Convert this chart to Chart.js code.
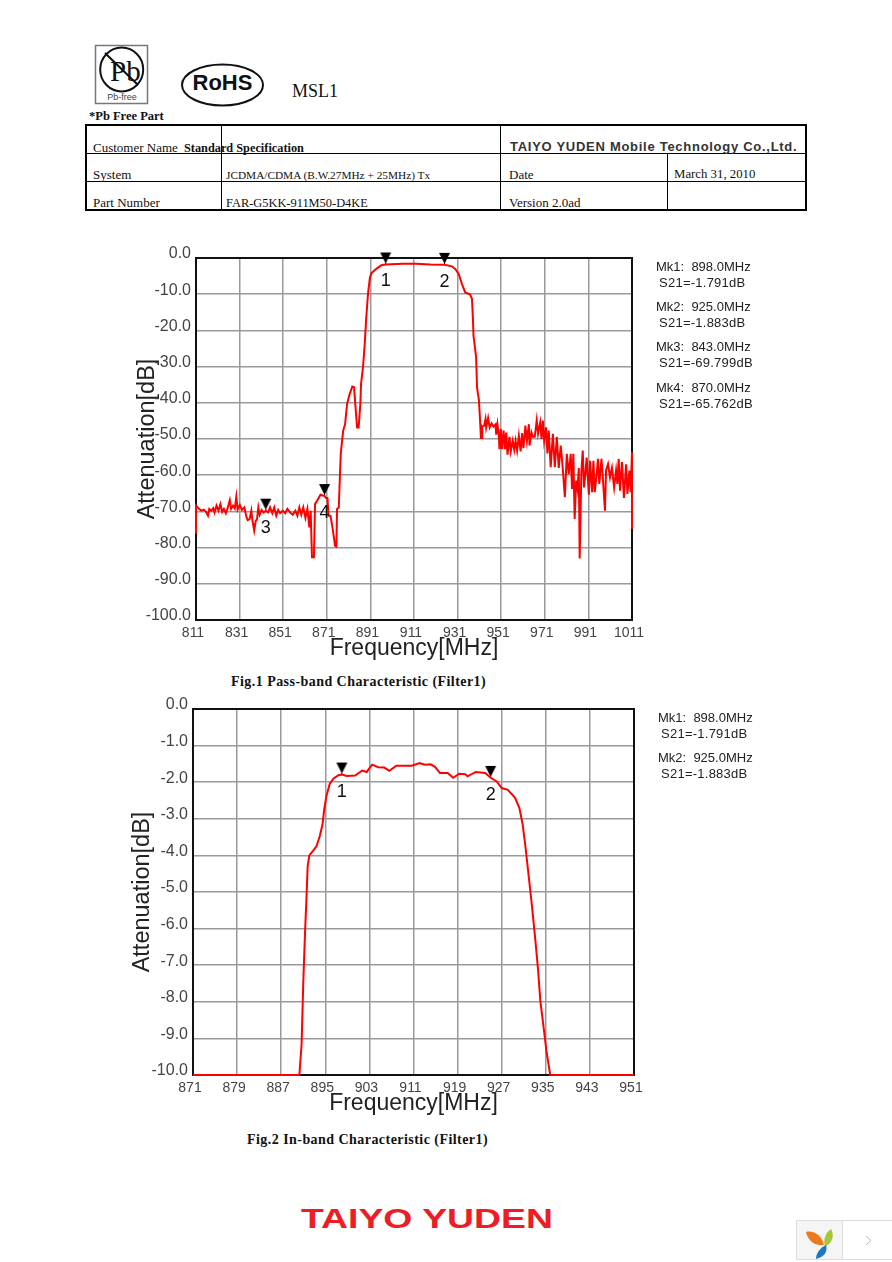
<!DOCTYPE html>
<html>
<head>
<meta charset="utf-8">
<title>FAR-G5KK-911M50-D4KE</title>
<script src="https://cdn.jsdelivr.net/npm/chart.js@4"></script>
<style>
  html, body { margin: 0; padding: 0; background: #fff; }
  body { position: relative; width: 892px; height: 1262px; overflow: hidden; }
  canvas { position: absolute; }
  .t { position: absolute; white-space: pre; line-height: 1; color: #111; }
  .serif { font-family: "Liberation Serif", serif; }
  .sans { font-family: "Liberation Sans", sans-serif; }
  .hl { position: absolute; background: #000; }
  .mk { position: absolute; font: 13px "Liberation Sans", sans-serif; color: #222; white-space: pre; line-height: 1; }
  svg { position: absolute; }
</style>
</head>
<body>

<!-- logos -->
<svg style="left:0;top:0" width="892" height="125">
  <rect x="95.5" y="45.5" width="52" height="58" fill="#fff" stroke="#777" stroke-width="1.5"/>
  <ellipse cx="121.7" cy="69.5" rx="21.5" ry="22" fill="none" stroke="#111" stroke-width="2"/>
  <line x1="105" y1="53" x2="138" y2="85" stroke="#111" stroke-width="2"/>
  <text x="110" y="81" font-family="Liberation Serif" font-size="29" fill="#111">Pb</text>
  <text x="122" y="100" font-family="Liberation Sans" font-size="9" fill="#444" text-anchor="middle">Pb-free</text>
  <ellipse cx="222.5" cy="85" rx="40.5" ry="20.5" fill="none" stroke="#111" stroke-width="2"/>
  <text x="222.5" y="90" font-family="Liberation Sans" font-weight="bold" font-size="22" fill="#111" text-anchor="middle">RoHS</text>
</svg>
<div class="t serif" style="left:292px;top:82px;font-size:18px">MSL1</div>
<div class="t serif" style="left:89px;top:110px;font-size:12.5px;font-weight:bold">*Pb Free Part</div>

<!-- spec table -->
<div class="hl" style="left:85px;top:124px;width:722px;height:2px"></div>
<div class="hl" style="left:85px;top:209px;width:722px;height:2px"></div>
<div class="hl" style="left:85px;top:124px;width:2px;height:87px"></div>
<div class="hl" style="left:805px;top:124px;width:2px;height:87px"></div>
<div class="hl" style="left:221px;top:124px;width:1px;height:87px"></div>
<div class="hl" style="left:500px;top:124px;width:1px;height:87px"></div>
<div class="hl" style="left:667px;top:153px;width:1px;height:58px"></div>
<div class="hl" style="left:85px;top:153px;width:722px;height:1px"></div>
<div class="hl" style="left:85px;top:181px;width:722px;height:1px"></div>
<div class="t serif" style="left:93px;top:141px;font-size:13px">Customer Name</div>
<div class="t serif" style="left:184px;top:142px;font-size:12.3px;font-weight:bold">Standard Specification</div>
<div class="t sans" style="left:510px;top:140px;font-size:13px;font-weight:bold;letter-spacing:.72px;color:#333">TAIYO YUDEN Mobile Technology Co.,Ltd.</div>
<div class="t serif" style="left:93px;top:168px;font-size:13px">System</div>
<div class="t serif" style="left:226px;top:170px;font-size:11.3px">JCDMA/CDMA (B.W.27MHz + 25MHz) Tx</div>
<div class="t serif" style="left:509px;top:168px;font-size:13px">Date</div>
<div class="t serif" style="left:674px;top:168px;font-size:12.8px">March 31, 2010</div>
<div class="t serif" style="left:93px;top:196px;font-size:13px">Part Number</div>
<div class="t serif" style="left:226px;top:197px;font-size:12.4px">FAR-G5KK-911M50-D4KE</div>
<div class="t serif" style="left:509px;top:196px;font-size:13px">Version 2.0ad</div>

<canvas id="passChart" width="540" height="425" style="left:120px;top:240px"></canvas>
<canvas id="inbandChart" width="540" height="430" style="left:120px;top:690px"></canvas>

<div class="t serif" style="left:231px;top:675px;font-size:14px;font-weight:bold;letter-spacing:.45px">Fig.1 Pass-band Characteristic (Filter1)</div>
<div class="t serif" style="left:247px;top:1133px;font-size:14px;font-weight:bold;letter-spacing:.45px">Fig.2 In-band Characteristic (Filter1)</div>

<!-- footer -->
<svg style="left:0;top:1190px" width="892" height="72">
  <text x="301" y="38" font-family="Liberation Sans" font-weight="bold" font-size="27" fill="#ee1c25" textLength="252" lengthAdjust="spacingAndGlyphs">TAIYO YUDEN</text>
  <rect x="796.5" y="30.5" width="100" height="39" fill="#fff" stroke="#ddd"/>
  <rect x="797" y="31" width="46" height="38" fill="#f5f5f5"/>
  <line x1="842.5" y1="30" x2="842.5" y2="70" stroke="#ddd"/>
  <path d="M806 42 C814 40 822 46 824 55 C815 56 808 51 806 42Z" fill="#ec7a1c"/>
  <path d="M831 39 C835 46 832 53 825 57 C823 50 825 43 831 39Z" fill="#a5c83a"/>
  <path d="M816 69 C816 63 820 58 826 55 C828 62 824 67 816 69Z" fill="#1c78c0"/>
  <path d="M866 46 L871 50.500 L866 55" fill="none" stroke="#bbb"/>
</svg>

<script>
// Fig.1 trace
const freq1 = [811, 811, 812.4, 813.4, 814.6, 815.6, 816.5, 817.1, 818, 818.9, 819.5, 820.4, 821.3, 822.2, 823, 823.8, 824.7, 825.6, 826.5, 827.1, 828, 828.8, 829.5, 830.1, 831.1, 832.1, 833.2, 834.1, 834.7, 835.6, 836.4, 836.8, 837.7, 838.4, 839, 839.6, 840.2, 841.1, 842, 843, 844.1, 845, 846, 846.9, 847.8, 848.7, 849.6, 850.8, 851.9, 852.9, 854.2, 855.4, 856.6, 857.5, 858.4, 859.3, 860.2, 861.2, 862.1, 863, 863.6, 864.2, 865.1, 865.6, 866.6, 868.1, 870, 870.6, 871.3, 871.8, 872.7, 873.6, 874.8, 875.4, 875.7, 876.5, 877, 877.4, 878.5, 879.4, 880.3, 881.5, 882.7, 883.5, 884.3, 884.9, 885.6, 886.4, 886.7, 887.6, 888.4, 889.1, 889.9, 890.8, 891.5, 893.7, 896, 898, 905.8, 911.9, 918.5, 925, 928.4, 929.9, 931.5, 933, 934.5, 936.8, 937.6, 938, 938.3, 939.5, 939.9, 940.8, 941.4, 941.7, 942.3, 942.3, 943.2, 943.8, 944.1, 945, 945.7, 946.6, 947.5, 948.4, 948.7, 949.3, 949.9, 950.2, 950.8, 951.3, 952.1, 952.7, 953.3, 953.9, 954.8, 955.4, 956.3, 957, 957.6, 958.3, 959.1, 959.9, 960.6, 961.2, 962.1, 962.8, 963.7, 964, 964.9, 965.5, 966.4, 967.3, 967.9, 968.9, 969.5, 970.1, 970.7, 971.6, 972.2, 972.8, 973.7, 974.7, 975.6, 976.5, 977.4, 978.3, 979.2, 980.2, 981.1, 982, 982.9, 983.5, 984.1, 984.7, 985.4, 986, 986.6, 987, 987.8, 988.4, 989, 989.6, 990.2, 991.2, 991.8, 992.7, 993.3, 993.9, 994.8, 995.4, 996, 997, 997.6, 998.6, 999.1, 1000, 1000.9, 1001.8, 1002.8, 1003.7, 1004.3, 1004.9, 1005.5, 1006.4, 1007.3, 1008.3, 1008.9, 1009.8, 1010.4, 1011, 1011];
const atten1 = [-76.2, -68.4, -69.3, -69.8, -69.5, -70.1, -71.2, -69.3, -69.8, -69.1, -70.3, -68.4, -69.8, -68, -70.1, -69.3, -70.5, -68.9, -66.9, -69.3, -68.4, -69.2, -65.9, -69.5, -68.2, -69.6, -68.9, -71.5, -72.4, -72.1, -69.8, -72.1, -75.3, -72.6, -72.1, -68.9, -70.9, -69.6, -70.3, -69.8, -70.3, -68.9, -70.5, -68.9, -71.2, -69.6, -70.5, -69.8, -70.5, -69.3, -70.3, -70.9, -69.8, -71.2, -68.9, -70.9, -68.9, -71.8, -69.3, -74.4, -69.8, -82.7, -82.7, -68, -67, -65.4, -65.76, -66.3, -66.3, -71.2, -71.2, -74.4, -79.5, -79.7, -69.3, -68.9, -60.6, -54.1, -47.7, -45.9, -40.3, -37.6, -35.5, -35.7, -42.2, -46.8, -46.8, -40.3, -34.8, -30.2, -23.8, -16.4, -9.9, -5.3, -4.2, -3, -2, -1.79, -1.6, -1.6, -1.8, -1.88, -2.3, -3, -4.4, -7.2, -9.5, -10.1, -11.3, -16.4, -21.5, -27.4, -35.7, -39.4, -45.9, -49.7, -49.7, -46.6, -46.3, -44.5, -46.8, -44.2, -46.8, -45.7, -46.6, -46, -48.8, -46, -49.1, -52.8, -47.2, -52.8, -47.7, -52.8, -48.2, -54.3, -49.4, -53.4, -50.5, -53, -50.5, -53.2, -49.1, -53.4, -48.4, -52.5, -46.3, -50.5, -45.9, -51.8, -48.2, -49.4, -49.4, -44.8, -48.5, -45.4, -50, -44.9, -50.5, -46.8, -54, -47.7, -57.8, -48.6, -57.8, -49.4, -58, -51.8, -57.8, -66.1, -54.1, -59.7, -54.1, -63.8, -54.1, -72.1, -61.5, -63.8, -58, -83, -58.7, -53.2, -63.4, -59.7, -55.1, -65.4, -56, -64.7, -56, -64.7, -59.7, -55.5, -62.4, -55.5, -60.6, -69.8, -58.7, -56.9, -60.6, -58, -63.4, -58.7, -62.4, -55.5, -64.3, -56.4, -66.3, -57, -65.2, -58.7, -64.7, -53.7, -74.9];

// Fig.2 trace
const freq2 = [871, 890.3, 890.7, 891, 891.3, 891.6, 891.8, 892.1, 892.8, 893.4, 894, 894.5, 894.8, 895.2, 895.8, 896.5, 897.4, 898, 898.9, 900.4, 901.7, 902.5, 903.5, 904.6, 905.7, 906.6, 907.9, 910.7, 912.1, 913.1, 914.1, 914.9, 915.8, 917.2, 918.2, 919.3, 920.4, 920.8, 922.3, 924, 925, 926.1, 927, 928.1, 929.4, 930.2, 930.8, 931.3, 931.9, 932.5, 933.1, 933.6, 934, 934.6, 935.1, 935.8, 951];
const atten2 = [-10, -10, -9.15, -7.5, -6.2, -5.1, -4.3, -4, -3.87, -3.75, -3.47, -3.15, -2.74, -2.38, -2.05, -1.9, -1.81, -1.79, -1.83, -1.82, -1.68, -1.72, -1.52, -1.59, -1.6, -1.69, -1.55, -1.55, -1.48, -1.52, -1.51, -1.58, -1.75, -1.75, -1.88, -1.77, -1.78, -1.84, -1.72, -1.75, -1.88, -1.98, -2.16, -2.21, -2.42, -2.7, -3.15, -3.75, -4.57, -5.39, -6.31, -7.13, -7.96, -8.69, -9.33, -10, -10];

// markers
const markerNames1 = ["1", "2", "3", "4"];
const markerFreq1 = [898.0, 925.0, 843.0, 870.0];
const markerLoss1 = [-1.791, -1.883, -69.799, -65.762];
const markerNames2 = ["1", "2"];
const markerFreq2 = [898.0, 925.0];
const markerLoss2 = [-1.791, -1.883];

const xTicks1 = [811, 831, 851, 871, 891, 911, 931, 951, 971, 991, 1011];
const xTicks2 = [871, 879, 887, 895, 903, 911, 919, 927, 935, 943, 951];

const RED = "#ff0000";
const GRID = "#9a9a9a";

// canvas sprite: the tip of the triangle sits on the centre so it points at the value
function markerSprite() {
  const c = document.createElement("canvas");
  c.width = 13;
  c.height = 26;
  const g = c.getContext("2d");
  g.fillStyle = "#000";
  g.beginPath();
  g.moveTo(1, 1);
  g.lineTo(12, 1);
  g.lineTo(6.5, 12);
  g.closePath();
  g.fill();
  g.fillRect(6, 10, 1, 3);
  return c;
}

// black frame goes under the trace, so the red covers it
const framePlugin = {
  id: "frame",
  beforeDatasetsDraw(chart) {
    const a = chart.chartArea;
    const g = chart.ctx;
    g.save();
    g.strokeStyle = "#111";
    g.lineWidth = 2;
    g.strokeRect(a.left, a.top, a.right - a.left, a.bottom - a.top);
    g.restore();
  }
};

// numbers under the triangles
const numbersPlugin = {
  id: "numbers",
  afterDatasetsDraw(chart, args, opts) {
    const g = chart.ctx;
    g.save();
    g.fillStyle = "#111";
    g.font = '18px "Liberation Sans"';
    g.textAlign = "center";
    g.textBaseline = "middle";
    opts.names.forEach((n, i) => {
      const x = chart.scales.x.getPixelForValue(opts.xs[i]);
      const y = chart.scales.y.getPixelForValue(opts.ys[i]);
      g.fillText(n, x, y + 17);
    });
    g.restore();
  }
};

function chartConfig(o) {
  return {
    type: "scatter",
    data: {
      datasets: [
        {
          data: o.xs.map((x, i) => ({ x: x, y: o.ys[i] })),
          showLine: true,
          borderColor: RED,
          borderWidth: 2,
          pointRadius: 0,
          tension: 0,
          clip: 2
        },
        {
          data: o.markerX.map((x, i) => ({ x: x, y: o.markerY[i] })),
          pointStyle: markerSprite(),
          clip: false,
          showLine: false
        }
      ]
    },
    options: {
      responsive: false,
      animation: false,
      events: [],
      layout: { padding: { left: 0, right: o.padRight, top: o.padTop, bottom: 0 } },
      plugins: {
        legend: { display: false },
        tooltip: { enabled: false },
        numbers: { names: o.names, xs: o.markerX, ys: o.markerY }
      },
      scales: {
        x: {
          type: "linear",
          min: o.xMin,
          max: o.xMax,
          afterFit: s => { s.height = 45; },
          afterBuildTicks: s => { s.ticks = o.xTicks.map(v => ({ value: v })); },
          grid: { color: GRID, lineWidth: 1.5, drawTicks: false },
          border: { color: "#111", width: 2 },
          ticks: { color: "#444", font: { family: "Liberation Sans", size: 14 }, padding: 5, labelOffset: -3, maxRotation: 0, autoSkip: false, callback: v => String(v) },
          title: { display: true, text: "Frequency[MHz]", color: "#222", font: { family: "Liberation Sans", size: 23 }, padding: { top: 0, bottom: 3 } }
        },
        y: {
          min: o.yMin,
          max: 0,
          afterFit: s => { s.width = o.yWidth; },
          ticks: { stepSize: o.yStep, color: "#444", font: { family: "Liberation Sans", size: 16 }, padding: 5, labelOffset: -4, autoSkip: false, callback: v => v.toFixed(1) },
          grid: { color: GRID, lineWidth: 1.5, drawTicks: false },
          border: { color: "#111", width: 2 },
          title: { display: true, text: "Attenuation[dB]", color: "#222", font: { family: "Liberation Sans", size: 23.5 }, padding: { top: o.yTitlePad, bottom: 0 } }
        }
      }
    },
    plugins: [framePlugin, numbersPlugin]
  };
}

new Chart(document.querySelector("#passChart"), chartConfig({
  xs: freq1, ys: atten1, markerX: markerFreq1, markerY: markerLoss1, names: markerNames1,
  xMin: 811, xMax: 1011, xTicks: xTicks1, yMin: -100, yStep: 10,
  padRight: 28, padTop: 18, yWidth: 76, yTitlePad: 13
}));

new Chart(document.querySelector("#inbandChart"), chartConfig({
  xs: freq2, ys: atten2, markerX: markerFreq2, markerY: markerLoss2, names: markerNames2,
  xMin: 871, xMax: 951, xTicks: xTicks2, yMin: -10, yStep: 1,
  padRight: 26, padTop: 19, yWidth: 73, yTitlePad: 8
}));

// marker read-outs beside the plots
function readouts(names, fs, ss, left, tops) {
  names.forEach((n, i) => {
    const a = document.createElement("div");
    a.className = "mk";
    a.style.left = left + "px";
    a.style.top = tops[i] + "px";
    a.textContent = "Mk" + n + ":  " + fs[i].toFixed(1) + "MHz";
    const b = document.createElement("div");
    b.className = "mk";
    b.style.left = (left + 3) + "px";
    b.style.top = (tops[i] + 16) + "px";
    b.style.letterSpacing = ".25px";
    b.textContent = "S21=" + ss[i].toFixed(3) + "dB";
    document.body.append(a, b);
  });
}
readouts(markerNames1, markerFreq1, markerLoss1, 656, [260, 300, 340, 381]);
readouts(markerNames2, markerFreq2, markerLoss2, 658, [711, 751]);
</script>
</body>
</html>
